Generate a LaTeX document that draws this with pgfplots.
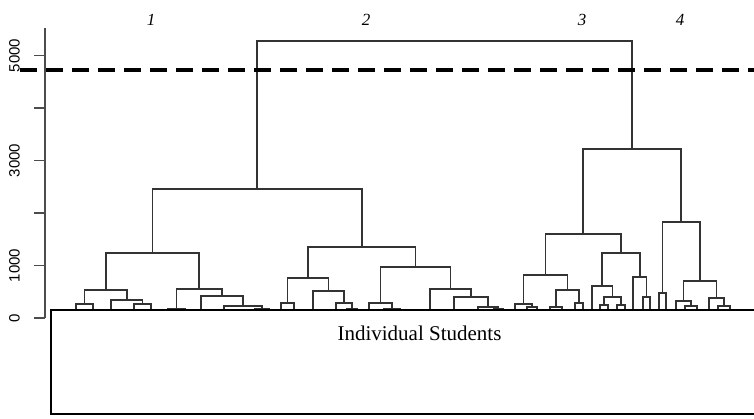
\documentclass[border=0pt]{standalone}
\usepackage{fontspec}
\setmainfont{Liberation Serif}
\setsansfont{Liberation Sans}
\usepackage{pgfplots}
\pgfplotsset{compat=1.18}
\definecolor{tree}{gray}{0.2}
\begin{document}
\begin{tikzpicture}
\begin{axis}[
  scale only axis, width=709pt, height=290pt,
  xmin=45, xmax=754, ymin=0, ymax=5524,
  axis x line=none, axis y line*=left,
  axis line style={black!70, line width=1.4pt, -},
  ytick={0,1000,3000,5000},
  yticklabels={0,1000,3000,5000},
  extra y ticks={2000,4000}, extra y tick labels={},
  tick align=outside, major tick length=11pt,
  tick style={black!70, line width=1.4pt},
  tick label style={font=\sffamily\fontsize{15}{16}\selectfont},
  yticklabel shift=4pt,
  yticklabel style={rotate=90, anchor=south, inner ysep=10pt, text=black},
  clip=false,
  dend/.style={tree, line width=1.6pt, mark=none, line join=miter},
]
% cluster 1
\addplot[dend] coordinates {(76,0)(76,267)(93,267)(93,0)};
\addplot[dend] coordinates {(134,0)(134,267)(151,267)(151,0)};
\addplot[dend] coordinates {(111,0)(111,343)(142.5,343)(142.5,267)};
\addplot[dend] coordinates {(84.5,267)(84.5,533)(127,533)(127,343)};
\addplot[dend] coordinates {(168,0)(168,181)(185,181)(185,0)};
\addplot[dend] coordinates {(255,0)(255,171)(269,171)(269,0)};
\addplot[dend] coordinates {(224,0)(224,229)(262,229)(262,171)};
\addplot[dend] coordinates {(201,0)(201,419)(243,419)(243,229)};
\addplot[dend] coordinates {(176.5,181)(176.5,552)(222,552)(222,419)};
\addplot[dend] coordinates {(106,533)(106,1238)(199,1238)(199,552)};
% cluster 2
\addplot[dend] coordinates {(281,0)(281,286)(294,286)(294,0)};
\addplot[dend] coordinates {(347,0)(347,171)(357,171)(357,0)};
\addplot[dend] coordinates {(336,0)(336,286)(352,286)(352,171)};
\addplot[dend] coordinates {(313,0)(313,514)(344,514)(344,286)};
\addplot[dend] coordinates {(287.5,286)(287.5,762)(328.5,762)(328.5,514)};
\addplot[dend] coordinates {(384,0)(384,171)(400,171)(400,0)};
\addplot[dend] coordinates {(369,0)(369,286)(392,286)(392,171)};
\addplot[dend] coordinates {(494,0)(494,171)(503,171)(503,0)};
\addplot[dend] coordinates {(478,0)(478,210)(498.5,210)(498.5,171)};
\addplot[dend] coordinates {(454,0)(454,400)(488.25,400)(488.25,210)};
\addplot[dend] coordinates {(430,0)(430,552)(471.1,552)(471.1,400)};
\addplot[dend] coordinates {(380.5,286)(380.5,972)(450.6,972)(450.6,552)};
\addplot[dend] coordinates {(308,762)(308,1353)(415.5,1353)(415.5,972)};
\addplot[dend] coordinates {(152.5,1238)(152.5,2457)(361.75,2457)(361.75,1353)};
% cluster 3
\addplot[dend] coordinates {(527,0)(527,210)(537,210)(537,0)};
\addplot[dend] coordinates {(515,0)(515,267)(532,267)(532,210)};
\addplot[dend] coordinates {(550,0)(550,210)(562,210)(562,0)};
\addplot[dend] coordinates {(575,0)(575,286)(583,286)(583,0)};
\addplot[dend] coordinates {(556,210)(556,533)(579,533)(579,286)};
\addplot[dend] coordinates {(523.5,267)(523.5,819)(567.5,819)(567.5,533)};
\addplot[dend] coordinates {(600,0)(600,248)(608,248)(608,0)};
\addplot[dend] coordinates {(617,0)(617,248)(625,248)(625,0)};
\addplot[dend] coordinates {(604,248)(604,400)(621,400)(621,248)};
\addplot[dend] coordinates {(592,0)(592,610)(612.5,610)(612.5,400)};
\addplot[dend] coordinates {(643,0)(643,400)(650,400)(650,0)};
\addplot[dend] coordinates {(633,0)(633,781)(646.5,781)(646.5,400)};
\addplot[dend] coordinates {(602.25,610)(602.25,1238)(639.75,1238)(639.75,781)};
\addplot[dend] coordinates {(545.5,819)(545.5,1600)(621,1600)(621,1238)};
% cluster 4
\addplot[dend] coordinates {(659,0)(659,476)(666,476)(666,0)};
\addplot[dend] coordinates {(685,0)(685,229)(697,229)(697,0)};
\addplot[dend] coordinates {(676,0)(676,324)(691,324)(691,229)};
\addplot[dend] coordinates {(718,0)(718,229)(730,229)(730,0)};
\addplot[dend] coordinates {(709,0)(709,381)(724,381)(724,229)};
\addplot[dend] coordinates {(683.5,324)(683.5,705)(716.5,705)(716.5,381)};
\addplot[dend] coordinates {(662.5,476)(662.5,1829)(700,1829)(700,705)};
\addplot[dend] coordinates {(583.25,1600)(583.25,3219)(681.25,3219)(681.25,1829)};
% top merge
\addplot[dend] coordinates {(257.1,2457)(257.1,5277)(632.25,5277)(632.25,3219)};
% cut line
\addplot[black, line width=4pt, dash pattern=on 17pt off 9pt, mark=none] coordinates {(20,4724)(756,4724)};
% box hiding leaves
\addplot[draw=black, fill=white, line width=1.3pt, mark=none] coordinates {(51,152)(51,-1829)(760,-1829)(760,152)} -- cycle;
\node[anchor=base, font=\fontsize{21}{22}\selectfont] at (axis cs:419.5,-430) {Individual Students};
\node[font=\itshape\fontsize{17}{18}\selectfont] at (axis cs:151,5680) {1};
\node[font=\itshape\fontsize{17}{18}\selectfont] at (axis cs:366,5680) {2};
\node[font=\itshape\fontsize{17}{18}\selectfont] at (axis cs:582,5680) {3};
\node[font=\itshape\fontsize{17}{18}\selectfont] at (axis cs:680,5680) {4};
\coordinate (bbA) at (axis cs:0,-1924);
\coordinate (bbB) at (axis cs:754,6057);
\end{axis}
\pgfresetboundingbox
\useasboundingbox (bbA) rectangle (bbB);
\end{tikzpicture}
\end{document}
